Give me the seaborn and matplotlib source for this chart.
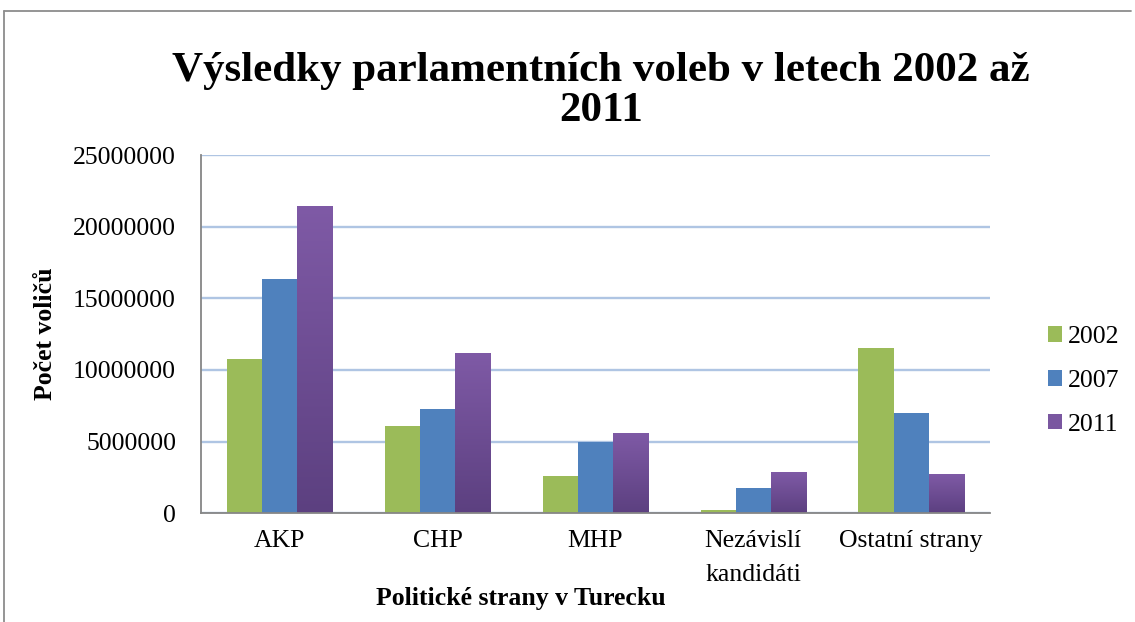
import numpy as np
import pandas as pd
import matplotlib
matplotlib.use("Agg")
import matplotlib.pyplot as plt
from matplotlib.ticker import FuncFormatter, FixedLocator
from matplotlib.patches import Patch
from matplotlib.lines import Line2D
from matplotlib.colors import LinearSegmentedColormap
import seaborn as sns

# ---- data ----
categories = ["AKP", "CHP", "MHP", "Nezávislí\nkandidáti", "Ostatní strany"]
years = ["2002", "2007", "2011"]
votes_2002 = [10760000, 6070000, 2580000, 250000, 11500000]
votes_2007 = [16320000, 7270000, 4950000, 1790000, 7020000]
votes_2011 = [21430000, 11200000, 5620000, 2860000, 2720000]
y_ticks = [0, 5000000, 10000000, 15000000, 20000000, 25000000]

title = "Výsledky parlamentních voleb v letech 2002 až\n2011"
x_label = "Politické strany v Turecku"
y_label = "Počet voličů"

colors = {"2002": "#9BBB59", "2007": "#4F81BD", "2011": "#7A57A0"}

df = pd.DataFrame({
    "strana": categories * 3,
    "rok": [y for y in years for _ in categories],
    "hlasy": votes_2002 + votes_2007 + votes_2011,
})

sns.set_theme(style="white")
plt.rcParams["font.family"] = ["Liberation Serif", "DejaVu Serif"]
plt.rcParams["text.color"] = "black"
plt.rcParams["axes.labelcolor"] = "black"
plt.rcParams["xtick.color"] = "black"
plt.rcParams["ytick.color"] = "black"

W, H = 1135, 622
fig = plt.figure(figsize=(W / 100, H / 100), dpi=100)
ax = fig.add_axes([201 / W, 1 - 513.3 / H, (990 - 201) / W, (513.3 - 155) / H])

sns.barplot(data=df, x="strana", y="hlasy", hue="rok", order=categories,
            hue_order=years, palette=colors, width=0.667, ax=ax,
            saturation=1, legend=False, edgecolor="none", linewidth=0)

# gradient for 2011 bars
grad = LinearSegmentedColormap.from_list("g", ["#5C4080", "#7F5AA6"])
n = len(categories)
bars_2011 = ax.patches[2 * n:3 * n]
for b in bars_2011:
    x0, y0 = b.get_x(), b.get_y()
    w, h = b.get_width(), b.get_height()
    im = ax.imshow(np.linspace(0, 1, 256).reshape(-1, 1), cmap=grad,
                   origin="lower", aspect="auto",
                   extent=[x0, x0 + w, y0, y0 + h], zorder=b.get_zorder() + 0.1)
    im.set_clip_path(b)

ax.set_xlim(-0.5, n - 0.5)
ax.set_ylim(0, 25000000)
ax.set_yticks(y_ticks)
ax.yaxis.set_major_formatter(FuncFormatter(lambda v, p: f"{int(v)}"))

# x: ticks at category boundaries, labels at centers
ax.xaxis.set_major_locator(FixedLocator(np.arange(-0.5, n, 1.0)))
ax.xaxis.set_major_formatter(FuncFormatter(lambda v, p: ""))
ax.xaxis.set_minor_locator(FixedLocator(np.arange(n)))
ax.set_xticks(np.arange(n), categories, minor=True)
ax.tick_params(axis="x", which="minor", length=0, pad=12, labelsize=18.5, labelcolor="black")
ax.tick_params(axis="x", which="major", length=6, width=1.2, color="#868686", direction="out")
ax.tick_params(axis="y", length=6, width=1.2, color="#868686", direction="out",
               labelsize=18.5, pad=12, labelcolor="black")
for lbl in ax.get_xticklabels(minor=True):
    lbl.set_linespacing(1.7)
    lbl.set_verticalalignment("top")

ax.grid(axis="y", color="#AFC5E3", linewidth=1.7)
ax.set_axisbelow(True)
for s in ["top", "right"]:
    ax.spines[s].set_visible(False)
for s in ["left", "bottom"]:
    ax.spines[s].set_color("#868686")
    ax.spines[s].set_linewidth(1.3)

ax.set_xlabel("")
ax.set_ylabel(y_label, fontsize=18.5, fontweight="bold", color="black")
ax.yaxis.set_label_coords((57 - 201) / (990 - 201), 0.5)

fig.text(521 / W, 1 - 598 / H, x_label, ha="center", va="center",
         fontsize=18.5, fontweight="bold", color="black")
fig.text(601 / W, 1 - 91 / H, title, ha="center", va="center",
         fontsize=31, fontweight="bold", linespacing=1.08, color="black")

handles = [Patch(facecolor=colors[y], edgecolor="none") for y in years]
fig.legend(handles, years, loc="center left", bbox_to_anchor=(1038 / W, 1 - 381 / H),
           frameon=False, fontsize=18.5, handlelength=0.55, handleheight=0.55,
           handletextpad=0.2, labelspacing=0.85, borderaxespad=0, labelcolor="black")

# outer chart frame (top and left visible)
fig.add_artist(Line2D([4 / W, 1131 / W], [1 - 11 / H, 1 - 11 / H],
                      transform=fig.transFigure, color="#8C8C8C", linewidth=1.3))
fig.add_artist(Line2D([4 / W, 4 / W], [1 - 11 / H, 0],
                      transform=fig.transFigure, color="#8C8C8C", linewidth=1.3))

fig.savefig("out.png", dpi=100)
